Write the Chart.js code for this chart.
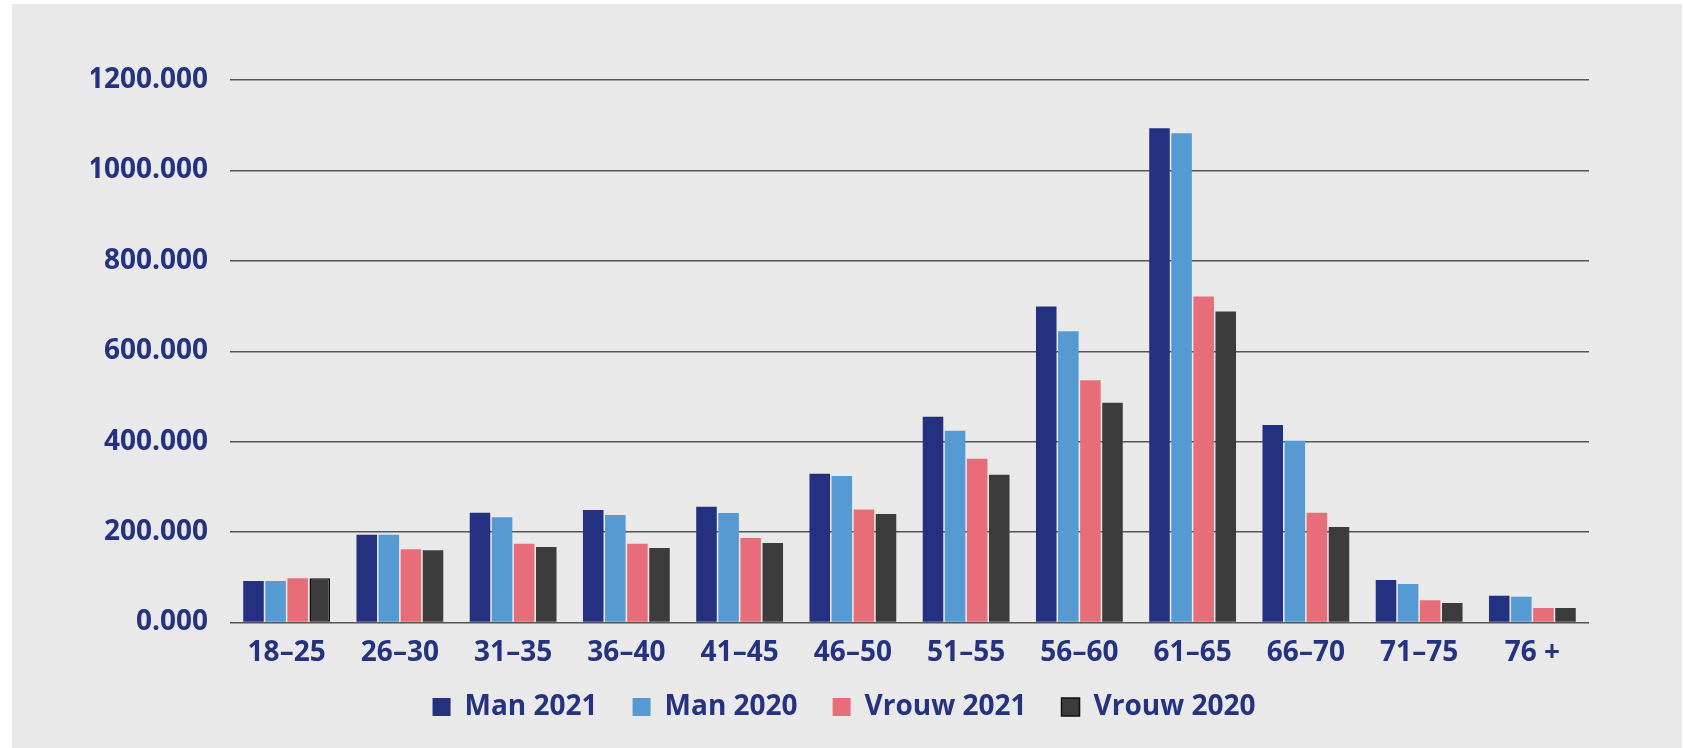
<!DOCTYPE html>
<html>
<head>
<meta charset="utf-8">
<script src="https://cdn.jsdelivr.net/npm/chart.js@4.4.0/dist/chart.umd.min.js"></script>
<style>
  html, body { margin: 0; padding: 0; background: #ffffff; }
  #wrap { position: absolute; left: 0; top: 0; width: 1683px; height: 748px; }
</style>
</head>
<body>
<div id="wrap"><canvas id="c" width="1683" height="748"></canvas></div>
<script>
// ---- data ----
const categories = ['18–25', '26–30', '31–35', '36–40', '41–45', '46–50', '51–55', '56–60', '61–65', '66–70', '71–75', '76 +'];
const man2021   = [92, 194, 243, 249, 256, 329, 455, 699, 1093, 437, 94, 59];
const man2020   = [92, 194, 233, 238, 242, 324, 424, 644, 1082, 402, 85, 57];
const vrouw2021 = [98, 162, 174, 174, 187, 250, 362, 536, 721, 243, 49, 32];
const vrouw2020 = [98, 160, 167, 165, 176, 240, 327, 486, 688, 211, 43, 32];
const yTickValues = [0, 200, 400, 600, 800, 1000, 1200];
const yTickLabels = ['0.000', '200.000', '400.000', '600.000', '800.000', '1000.000', '1200.000'];
const seriesNames = ['Man 2021', 'Man 2020', 'Vrouw 2021', 'Vrouw 2020'];

const TEXT = '#253280';
const FONT = 'Open Sans';

const bgPlugin = {
  id: 'bg',
  beforeDraw(chart) {
    const ctx = chart.ctx;
    ctx.save();
    ctx.fillStyle = '#e9e9e9';
    ctx.fillRect(12, 4, chart.width - 13, chart.height - 4);
    ctx.restore();
    const lg = chart.legend;
    if (lg && !lg._shifted) {
      lg.left += 4; lg.right += 4; lg.top += 4; lg.bottom += 4;
      lg._shifted = true;
    }
  }
};

new Chart(document.getElementById('c'), {
  type: 'bar',
  data: {
    labels: categories,
    datasets: [
      { label: seriesNames[0], data: man2021, backgroundColor: '#243180' },
      { label: seriesNames[1], data: man2020, backgroundColor: '#569ad4' },
      { label: seriesNames[2], data: vrouw2021, backgroundColor: '#e76e78' },
      { label: seriesNames[3], data: vrouw2020, backgroundColor: '#3c3c3c',
        borderColor: '#111111', borderSkipped: false,
        borderWidth: (c) => (c.dataIndex === 0 ? 1.5 : 0) }
    ]
  },
  options: {
    responsive: false,
    animation: false,
    devicePixelRatio: 1,
    layout: { padding: { left: 91, right: 94, top: 80, bottom: 21 } },
    datasets: { bar: { categoryPercentage: 0.78, barPercentage: 0.93 } },
    scales: {
      x: {
        grid: { display: false },
        border: { display: false },
        ticks: { color: TEXT, font: { family: FONT, size: 28, weight: 'bold' }, padding: 6, maxRotation: 0, autoSkip: false },
        afterFit(scale) {
          scale.height = 31.5;
          scale._computeLabelArea = function () { return undefined; };
        }
      },
      y: {
        min: 0, max: 1200,
        afterBuildTicks(scale) { scale.ticks = yTickValues.map(v => ({ value: v })); },
        grid: { color: '#555555', lineWidth: 1.4, drawTicks: false },
        border: { display: false },
        ticks: {
          color: TEXT, font: { family: FONT, size: 28, weight: 'bold' }, padding: 22,
          callback(value) { const i = yTickValues.indexOf(value); return i >= 0 ? yTickLabels[i] : ''; }
        },
        afterFit(scale) { scale.width = 139; }
      }
    },
    plugins: {
      legend: {
        position: 'bottom',
        labels: { color: TEXT, font: { family: FONT, size: 28, weight: 'bold' }, boxWidth: 18, boxHeight: 18, padding: 35 }
      },
      tooltip: { enabled: false }
    }
  },
  plugins: [bgPlugin]
});
</script>
</body>
</html>
